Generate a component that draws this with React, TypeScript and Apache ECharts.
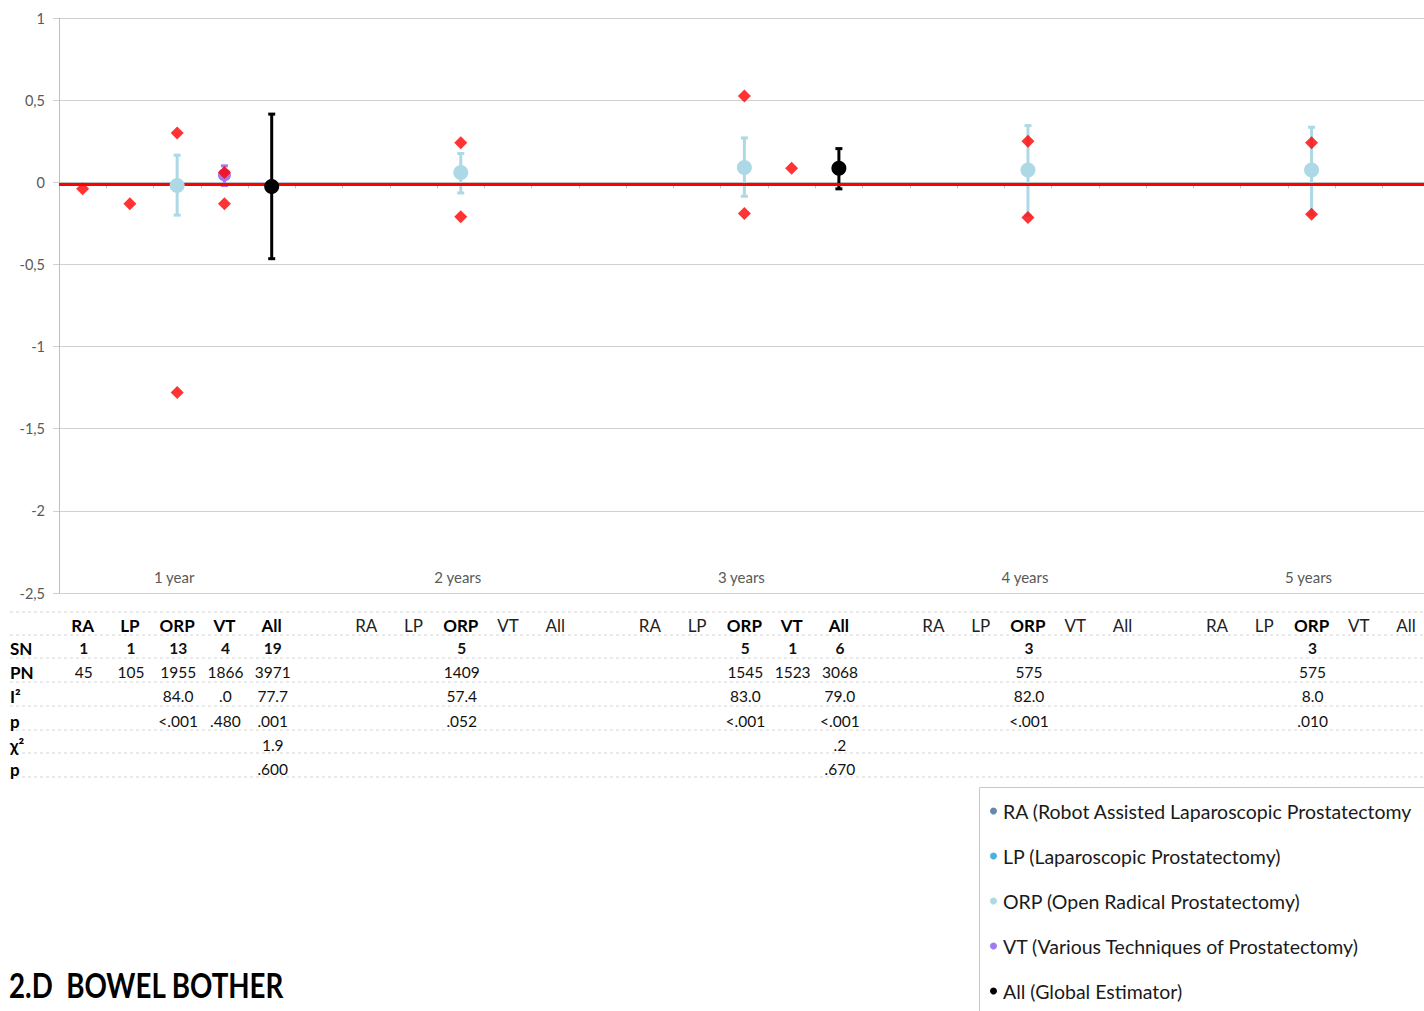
import React, { useEffect, useRef } from "react";
import * as echarts from "echarts";

// Follow-up groups and surgical techniques (one slot per technique, plus a spacer slot per group)
const GROUPS = ["1 year", "2 years", "3 years", "4 years", "5 years"];
const METHODS = ["RA", "LP", "ORP", "VT", "All"];
const SLOTS_PER_GROUP = 6;

// Individual study estimates: [group, method, value]
const STUDY_POINTS: [number, number, number][] = [
  [0, 0, -0.04],
  [0, 1, -0.13],
  [0, 2, 0.3],
  [0, 2, -1.28],
  [0, 3, 0.06],
  [0, 3, -0.13],
  [1, 2, 0.24],
  [1, 2, -0.21],
  [2, 2, 0.525],
  [2, 2, -0.19],
  [2, 3, 0.085],
  [3, 2, 0.25],
  [3, 2, -0.215],
  [4, 2, 0.24],
  [4, 2, -0.195],
];

// Pooled estimates: [group, estimate, lower, upper]
const ORP_POOLED: [number, number, number, number][] = [
  [0, -0.02, -0.2, 0.165],
  [1, 0.06, -0.065, 0.175],
  [2, 0.09, -0.085, 0.27],
  [3, 0.075, -0.2, 0.345],
  [4, 0.075, -0.195, 0.335],
];
const VT_POOLED: [number, number, number, number][] = [[0, 0.045, -0.02, 0.1]];
const ALL_POOLED: [number, number, number, number][] = [
  [0, -0.025, -0.465, 0.415],
  [2, 0.085, -0.04, 0.205],
];

// Reference line (no difference)
const ZERO_LINE = -0.012;

// Y axis ticks
const Y_MIN = -2.5;
const Y_MAX = 1;
const Y_STEP = 0.5;

// Legend entries
const LEGEND_NAMES = [
  "RA (Robot Assisted Laparoscopic Prostatectomy",
  "LP (Laparoscopic Prostatectomy)",
  "ORP (Open Radical Prostatectomy)",
  "VT (Various Techniques of Prostatectomy)",
  "All (Global Estimator)",
];
const METHOD_COLORS = ["#3C6A94", "#1E9ED9", "#ADD8E6", "#9F7AF0", "#000000"];

// Summary table
const HEADER_BOLD = [
  [1, 1, 1, 1, 1],
  [0, 0, 1, 0, 0],
  [0, 0, 1, 1, 1],
  [0, 0, 1, 0, 0],
  [0, 0, 1, 0, 0],
];
const ROW_LABELS = ["SN", "PN", "I²", "p", "χ²", "p"];
const ROW_BOLD = [true, false, false, false, false, false];
const SN_ROW = [
  ["1", "1", "13", "4", "19"],
  ["", "", "5", "", ""],
  ["", "", "5", "1", "6"],
  ["", "", "3", "", ""],
  ["", "", "3", "", ""],
];
const PN_ROW = [
  ["45", "105", "1955", "1866", "3971"],
  ["", "", "1409", "", ""],
  ["", "", "1545", "1523", "3068"],
  ["", "", "575", "", ""],
  ["", "", "575", "", ""],
];
const I2_ROW = [
  ["", "", "84.0", ".0", "77.7"],
  ["", "", "57.4", "", ""],
  ["", "", "83.0", "", "79.0"],
  ["", "", "82.0", "", ""],
  ["", "", "8.0", "", ""],
];
const P_ROW = [
  ["", "", "<.001", ".480", ".001"],
  ["", "", ".052", "", ""],
  ["", "", "<.001", "", "<.001"],
  ["", "", "<.001", "", ""],
  ["", "", ".010", "", ""],
];
const CHI2_ROW = [
  ["", "", "", "", "1.9"],
  ["", "", "", "", ""],
  ["", "", "", "", ".2"],
  ["", "", "", "", ""],
  ["", "", "", "", ""],
];
const CHI2_P_ROW = [
  ["", "", "", "", ".600"],
  ["", "", "", "", ""],
  ["", "", "", "", ".670"],
  ["", "", "", "", ""],
  ["", "", "", "", ""],
];
const TABLE_ROWS = [SN_ROW, PN_ROW, I2_ROW, P_ROW, CHI2_ROW, CHI2_P_ROW];

const TITLE = "2.D  BOWEL BOTHER";

const slotOf = (g: number, m: number) => g * SLOTS_PER_GROUP + m;
const CATEGORIES = GROUPS.flatMap((g) => [...METHODS.map((m) => `${g} ${m}`), `${g}`]);

const FONT = "Lato, 'Open Sans', sans-serif";

// The visible frame is narrower than the chart canvas: the last spacer slot runs past the right edge.
const FRAME_W = 1424;
const FRAME_H = 1011;
const CANVAS_W = 1477;

export default function App() {
  const ref = useRef<HTMLDivElement>(null);

  useEffect(() => {
    if (!ref.current) return;
    const chart = echarts.init(ref.current, null, { renderer: "svg" });

    const errorData = [
      ...ORP_POOLED.map(([g, e, lo, hi]) => [slotOf(g, 2), e, lo, hi, 2]),
      ...VT_POOLED.map(([g, e, lo, hi]) => [slotOf(g, 3), e, lo, hi, 3]),
      ...ALL_POOLED.map(([g, e, lo, hi]) => [slotOf(g, 4), e, lo, hi, 4]),
    ];

    const pooledSeries = (idx: number, rows: [number, number, number, number][], size: number) => ({
      name: LEGEND_NAMES[idx],
      type: "scatter",
      z: 4,
      symbol: "circle",
      symbolSize: size,
      itemStyle: { color: METHOD_COLORS[idx], opacity: 1 },
      data: rows.map(([g, e]) => [slotOf(g, idx), e]),
    });

    chart.setOption({
      animation: false,
      grid: { left: 59, top: 18, bottom: 418, right: 0 },
      xAxis: {
        type: "category",
        data: CATEGORIES,
        boundaryGap: true,
        axisLine: { lineStyle: { color: "#BFBFBF", width: 1 } },
        axisTick: { show: true, interval: 0, length: 6, lineStyle: { color: "#BFBFBF" } },
        axisLabel: { show: false },
        splitLine: { show: false },
      },
      yAxis: {
        type: "value",
        min: Y_MIN,
        max: Y_MAX,
        interval: Y_STEP,
        axisLine: { show: true, lineStyle: { color: "#BFBFBF" } },
        axisTick: { show: true, length: 6, lineStyle: { color: "#D0D0D0" } },
        axisLabel: {
          margin: 14,
          color: "#595959",
          fontSize: 14.5,
          fontFamily: FONT,
          formatter: (v: number) => String(v).replace(".", ","),
        },
        splitLine: { lineStyle: { color: "#D0D0D0", width: 1 } },
      },
      legend: {
        orient: "vertical",
        left: 985,
        top: 796,
        itemGap: 25,
        itemWidth: 7,
        itemHeight: 7,
        icon: "circle",
        selectedMode: false,
        data: LEGEND_NAMES,
        textStyle: { fontSize: 19.5, lineHeight: 20, color: "#1A1A1A", fontFamily: FONT, padding: [0, 0, 0, 1] },
      },
      series: [
        {
          name: "error bars",
          type: "custom",
          z: 2,
          encode: { x: 0, y: [2, 3] },
          data: errorData,
          renderItem: (params: any, api: any) => {
            const x = api.value(0);
            const lo = api.coord([x, api.value(2)]);
            const hi = api.coord([x, api.value(3)]);
            const color = METHOD_COLORS[api.value(4)];
            const cap = 3.5;
            const style = { stroke: color, lineWidth: 3 };
            return {
              type: "group",
              children: [
                { type: "line", shape: { x1: lo[0], y1: lo[1], x2: hi[0], y2: hi[1] }, style },
                { type: "line", shape: { x1: lo[0] - cap, y1: lo[1], x2: lo[0] + cap, y2: lo[1] }, style },
                { type: "line", shape: { x1: hi[0] - cap, y1: hi[1], x2: hi[0] + cap, y2: hi[1] }, style },
              ],
            };
          },
        },
        { name: LEGEND_NAMES[0], type: "scatter", itemStyle: { color: METHOD_COLORS[0] }, data: [] },
        { name: LEGEND_NAMES[1], type: "scatter", itemStyle: { color: METHOD_COLORS[1] }, data: [] },
        pooledSeries(2, ORP_POOLED, 15),
        pooledSeries(3, VT_POOLED, 13),
        pooledSeries(4, ALL_POOLED, 15),
        {
          name: "studies",
          type: "scatter",
          z: 5,
          symbol: "diamond",
          symbolSize: 13,
          itemStyle: { color: "#FF0000" },
          data: STUDY_POINTS.map(([g, m, v]) => [slotOf(g, m), v]),
          markLine: {
            z: 3,
            silent: true,
            symbol: "none",
            label: { show: false },
            lineStyle: { color: "#FF0000", width: 3, type: "solid" },
            data: [{ yAxis: ZERO_LINE }],
          },
        },
      ],
    });

    // Texts and table under the plot, positioned from the axes
    const toPx = (s: number, v: number) => chart.convertToPixel({ gridIndex: 0 }, [s, v]) as number[];
    const axisY = toPx(0, Y_MIN)[1];
    const graphics: any[] = [];

    GROUPS.forEach((g, gi) => {
      graphics.push({
        type: "text",
        x: toPx(slotOf(gi, 2), Y_MIN)[0] - 3,
        y: axisY - 16,
        style: { text: g, fill: "#595959", fontSize: 15, fontFamily: FONT, align: "center", verticalAlign: "middle" },
      });
    });

    const lineOffsets = [19, 42, 65, 89, 113, 137, 160, 184];
    lineOffsets.forEach((off) => {
      graphics.push({
        type: "line",
        shape: { x1: 10, y1: axisY + off, x2: FRAME_W, y2: axisY + off },
        style: { stroke: "#D4D4D4", lineWidth: 1, lineDash: [3, 3] },
      });
    });

    const headerY = axisY + 32;
    GROUPS.forEach((_, gi) => {
      METHODS.forEach((m, mi) => {
        const bold = HEADER_BOLD[gi][mi] === 1;
        graphics.push({
          type: "text",
          x: toPx(slotOf(gi, mi), Y_MIN)[0],
          y: headerY,
          style: {
            text: m,
            fill: bold ? "#000" : "#222",
            fontSize: 17,
            fontWeight: bold ? "bold" : "normal",
            fontFamily: FONT,
            align: "center",
            verticalAlign: "middle",
          },
        });
      });
    });

    const rowOffsets = [55, 79, 103, 128, 152, 176];
    TABLE_ROWS.forEach((row, ri) => {
      const y = axisY + rowOffsets[ri];
      graphics.push({
        type: "text",
        x: 10,
        y,
        style: {
          text: ROW_LABELS[ri],
          fill: "#000",
          fontSize: 17,
          fontWeight: "bold",
          fontFamily: FONT,
          align: "left",
          verticalAlign: "middle",
        },
      });
      row.forEach((cells, gi) => {
        cells.forEach((cell, mi) => {
          if (!cell) return;
          graphics.push({
            type: "text",
            x: toPx(slotOf(gi, mi), Y_MIN)[0] + 1,
            y,
            style: {
              text: cell,
              fill: "#111",
              fontSize: 15.5,
              fontWeight: ROW_BOLD[ri] ? "bold" : "normal",
              fontFamily: FONT,
              align: "center",
              verticalAlign: "middle",
            },
          });
        });
      });
    });

    // Legend frame
    graphics.push({
      type: "rect",
      z: -1,
      shape: { x: 979.5, y: 787.5, width: 500, height: 300 },
      style: { fill: "#fff", stroke: "#C8C8C8", lineWidth: 1 },
    });

    // Figure title, condensed horizontally
    graphics.push({
      type: "text",
      x: 9,
      y: 985,
      scaleX: 0.815,
      style: {
        text: TITLE,
        fill: "#000",
        fontSize: 34,
        fontWeight: "bold",
        fontFamily: FONT,
        align: "left",
        verticalAlign: "middle",
      },
    });

    chart.setOption({ graphic: graphics });

    return () => chart.dispose();
  }, []);

  return (
    <div style={{ position: "absolute", left: 0, top: 0, width: FRAME_W, height: FRAME_H, overflow: "hidden" }}>
      <div ref={ref} style={{ width: CANVAS_W, height: FRAME_H }} />
    </div>
  );
}
